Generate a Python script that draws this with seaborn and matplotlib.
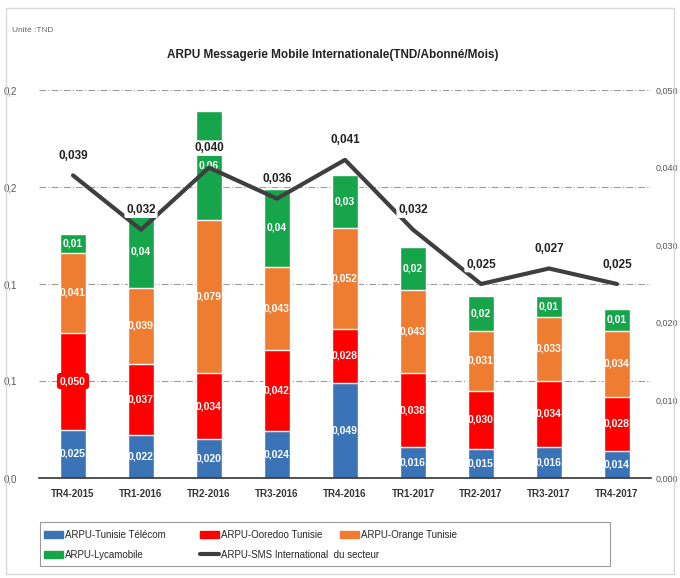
import numpy as np
import pandas as pd
import matplotlib
matplotlib.use("Agg")
import matplotlib.pyplot as plt
import matplotlib.patches as mpatches
import matplotlib.lines as mlines
import seaborn as sns

sns.set_style("white")
plt.rcParams['font.family'] = ['Liberation Sans Narrow', 'Liberation Sans', 'DejaVu Sans']

# data
trimestres = ["TR4-2015", "TR1-2016", "TR2-2016", "TR3-2016", "TR4-2016",
              "TR1-2017", "TR2-2017", "TR3-2017", "TR4-2017"]
tunisie_telecom = [0.025, 0.022, 0.020, 0.024, 0.049, 0.016, 0.015, 0.016, 0.014]
ooredoo = [0.050, 0.037, 0.034, 0.042, 0.028, 0.038, 0.030, 0.034, 0.028]
orange = [0.041, 0.039, 0.079, 0.043, 0.052, 0.043, 0.031, 0.033, 0.034]
lycamobile = [0.010, 0.037, 0.056, 0.040, 0.027, 0.022, 0.018, 0.011, 0.011]
sms_secteur = [0.039, 0.032, 0.040, 0.036, 0.041, 0.032, 0.025, 0.027, 0.025]

left_ticks = [0.0, 0.05, 0.10, 0.15, 0.20]
left_labels = ["0,0", "0,1", "0,1", "0,2", "0,2"]
right_ticks = [0.0, 0.01, 0.02, 0.03, 0.04, 0.05]
right_labels = ["0,000", "0,010", "0,020", "0,030", "0,040", "0,050"]

names = ["ARPU-Tunisie Télécom", "ARPU-Ooredoo Tunisie", "ARPU-Orange Tunisie",
         "ARPU-Lycamobile", "ARPU-SMS International  du secteur"]
colors = ["#3b74b6", "#ff0000", "#ee7d31", "#17a54b"]
line_color = "#3f3f3f"

df = pd.DataFrame({"trim": trimestres, "tt": tunisie_telecom, "oo": ooredoo,
                   "or": orange, "ly": lycamobile})
df["c1"] = df["tt"]
df["c2"] = df["c1"] + df["oo"]
df["c3"] = df["c2"] + df["or"]
df["c4"] = df["c3"] + df["ly"]

fig = plt.figure(figsize=(6.8, 5.78), dpi=100)
ax = fig.add_axes([39/680, 1-478/578, (651-39)/680, (478-90)/578])

# stacked bars drawn as layered cumulative totals
for col, c in zip(["c4", "c3", "c2", "c1"], colors[::-1]):
    sns.barplot(data=df, x="trim", y=col, color=c, saturation=1, width=0.38,
                ax=ax, zorder=2)

ax.set_ylim(0, 0.2)
ax.set_xlim(-0.5, len(trimestres) - 0.5)
ax.set_yticks(left_ticks)
ax.set_yticklabels(left_labels, fontsize=7, color="#555555")
ax.set_xlabel("")
ax.set_ylabel("")
ax.tick_params(axis="y", length=0, pad=16)
ax.tick_params(axis="x", length=0, pad=8, labelsize=7, labelcolor="#333333")
for t in ax.get_xticklabels():
    t.set_fontweight("bold")
ax.set_xticks(np.arange(0.5, len(trimestres) - 0.5), minor=True)
ax.tick_params(axis="x", which="minor", length=4, direction="out", color="#333333")
for y in left_ticks[1:]:
    ax.axhline(y, color="#9a9a9a", lw=0.8, ls=(0, (6, 2, 1, 2)), zorder=1)
for s in ["top", "right", "left"]:
    ax.spines[s].set_visible(False)
ax.spines["bottom"].set_color("#333333")
ax.spines["bottom"].set_linewidth(1.2)

# segment labels
for i in range(len(trimestres)):
    bottoms = [0, df["c1"][i], df["c2"][i], df["c3"][i]]
    vals = [tunisie_telecom[i], ooredoo[i], orange[i], lycamobile[i]]
    for k, (b, v) in enumerate(zip(bottoms, vals)):
        txt = f"{v:.2f}" if k == 3 else f"{v:.3f}"
        txt = txt.replace(".", ",")
        kw = {}
        if i == 0 and k == 1:
            kw["bbox"] = dict(boxstyle="round,pad=0.3", fc=colors[1], ec="none")
        ax.text(i, b + v / 2, txt, ha="center", va="center", color="white",
                fontsize=7.5, fontweight="bold", zorder=3, **kw)

# SMS line on the secondary axis
ax2 = ax.twinx()
sns.lineplot(x=np.arange(len(trimestres)), y=sms_secteur, ax=ax2, color=line_color,
             lw=3, zorder=4)
ax2.set_ylim(0, 0.05)
ax2.set_yticks(right_ticks)
ax2.set_yticklabels(right_labels, fontsize=6.5, color="#555555")
ax2.tick_params(axis="y", length=0, pad=3)
for s in ["top", "right", "left", "bottom"]:
    ax2.spines[s].set_visible(False)
for i, v in enumerate(sms_secteur):
    ax2.annotate(f"{v:.3f}".replace(".", ","), (i, v), xytext=(0, 14),
                 textcoords="offset points", ha="center", va="center",
                 fontsize=8.5, fontweight="bold", color="#222222", zorder=5,
                 bbox=dict(boxstyle="round,pad=0.15", fc="white", ec="none"))

fig.text(0.49, 1-55/578, "ARPU Messagerie Mobile Internationale(TND/Abonné/Mois)",
         ha="center", va="center", fontsize=8.5, fontweight="bold", color="#222222")
fig.text(12/680, 1-30/578, "Unité :TND", ha="left", va="center", fontsize=6,
         color="#666666")

handles = [mpatches.Patch(color=c) for c in colors]
handles.append(mlines.Line2D([], [], color=line_color, lw=3))
# one small legend per column, placed like the reference
columns = [([0, 3], 44), ([1, 4], 200), ([2], 340)]
for idx, x0 in columns:
    fig.legend([handles[j] for j in idx], [names[j] for j in idx],
               loc="upper left", bbox_to_anchor=(x0/680, 1-530/578),
               fontsize=7, frameon=False, borderpad=0, borderaxespad=0,
               handlelength=2.0, handletextpad=0.2, labelspacing=1.0)
fig.patches.append(mpatches.Rectangle((40/680, 1-566/578), 570/680, 44/578,
                                      transform=fig.transFigure, fill=False,
                                      ec="#9a9a9a", lw=0.8))

fig.patches.append(mpatches.Rectangle((6/680, 4/578), 668/680, 566/578,
                                      transform=fig.transFigure, fill=False,
                                      ec="#d8d8d8", lw=1))

fig.savefig("out.png", dpi=100)
